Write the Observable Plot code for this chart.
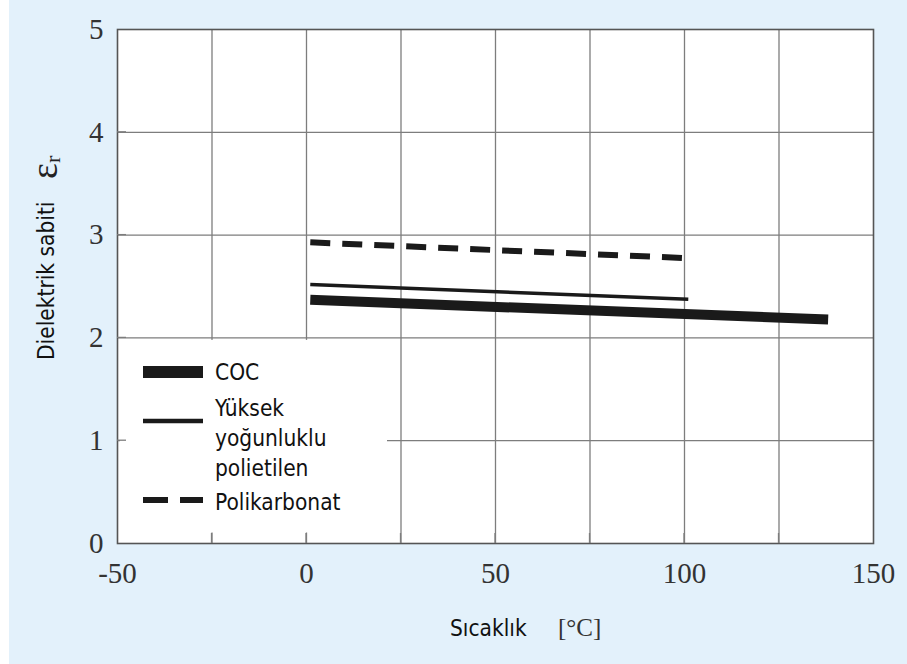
<!DOCTYPE html>
<html>
<head>
<meta charset="utf-8">
<script src="https://cdn.jsdelivr.net/npm/d3@7"></script>
<script src="https://cdn.jsdelivr.net/npm/@observablehq/plot@0.6"></script>
<style>
  html, body { margin: 0; padding: 0; }
  body { width: 907px; height: 664px; background: #ffffff; position: relative; overflow: hidden; }
  #panel { position: absolute; left: 9px; top: 0; width: 898px; height: 664px; background: #e3f1fb; }
</style>
</head>
<body>
<div id="panel"></div>
<script>
// ---- data ----
const xTicks = [-50, 0, 50, 100, 150];
const xGrid = [-25, 0, 25, 50, 75, 100, 125];
const yTicks = [0, 1, 2, 3, 4, 5];
const yGrid = [1, 2, 3, 4];

const cocT = [1, 138];
const cocE = [2.37, 2.18];
const hdpeT = [1, 101];
const hdpeE = [2.52, 2.375];
const pcT = [1, 101];
const pcE = [2.93, 2.775];

const seriesNames = ["COC", "Yüksek yoğunluklu polietilen", "Polikarbonat"];
const legendLines = [["COC"], ["Yüksek", "yoğunluklu", "polietilen"], ["Polikarbonat"]];

const toRows = (t, e) => t.map((v, i) => ({t: v, e: e[i]}));
const cocRows = toRows(cocT, cocE);
const hdpeRows = toRows(hdpeT, hdpeE);
const pcRows = toRows(pcT, pcE);

const serif = "'Liberation Serif', 'Times New Roman', serif";
const sans = "'DejaVu Sans Condensed', 'DejaVu Sans', sans-serif";
const fmt = d => String(d);

const plot = Plot.plot({
  width: 898,
  height: 664,
  marginLeft: 108,
  marginTop: 29,
  marginRight: 34,
  marginBottom: 121,
  style: {background: "transparent", overflow: "visible"},
  x: {domain: [-50, 150]},
  y: {domain: [0, 5]},
  marks: [
    Plot.frame({fill: "white", stroke: "none"}),
    Plot.ruleX(xGrid, {stroke: "#7d7d7d", strokeWidth: 1.3}),
    Plot.ruleY(yGrid, {stroke: "#7d7d7d", strokeWidth: 1.3}),
    Plot.frame({stroke: "#555", strokeWidth: 1.6}),
    Plot.line(cocRows, {x: "t", y: "e", stroke: "#1a1a1a", strokeWidth: 10, strokeLinecap: "butt"}),
    Plot.line(hdpeRows, {x: "t", y: "e", stroke: "#1a1a1a", strokeWidth: 3.5, strokeLinecap: "butt"}),
    Plot.line(pcRows, {x: "t", y: "e", stroke: "#1a1a1a", strokeWidth: 6, strokeLinecap: "butt", strokeDasharray: "20,12"}),
    Plot.axisX(xTicks, {tickSize: 0, tickPadding: 19, label: null, tickFormat: fmt, fontSize: 29, fontFamily: serif, fill: "#333"}),
    Plot.axisY(yTicks, {tickSize: 0, tickPadding: 14, label: null, tickFormat: fmt, fontSize: 29, fontFamily: serif, fill: "#333"})
  ]
});

document.getElementById("panel").appendChild(plot);

const svg = d3.select(plot);
const xs = plot.scale("x");
const ys = plot.scale("y");
const L = 108, B = 664 - 121;

// ---- legend box ----
const g = svg.append("g").attr("text-anchor", "start");
g.append("rect").attr("x", L + 3).attr("y", ys.apply(2) + 2.5).attr("width", 267).attr("height", B - ys.apply(2) - 13).attr("fill", "white");

// inner tick marks (visible where the legend box covers the grid)
xGrid.forEach(v => {
  g.append("line").attr("x1", xs.apply(v)).attr("x2", xs.apply(v)).attr("y1", B).attr("y2", B - 10)
    .attr("stroke", "#7d7d7d").attr("stroke-width", 1.3);
});
yGrid.forEach(v => {
  g.append("line").attr("x1", L).attr("x2", L + 9).attr("y1", ys.apply(v)).attr("y2", ys.apply(v))
    .attr("stroke", "#7d7d7d").attr("stroke-width", 1.3);
});

const sx1 = 134, sx2 = 194, tx = 206;
const styles = [
  {w: 12, dash: null},
  {w: 4.5, dash: null},
  {w: 6, dash: "25,12"}
];
const swatchY = [372, 421, 500];
const textBase = [[380], [416, 446, 476], [510]];
seriesNames.forEach((name, i) => {
  const ln = g.append("line").attr("x1", sx1).attr("x2", sx2).attr("y1", swatchY[i]).attr("y2", swatchY[i])
    .attr("stroke", "#1a1a1a").attr("stroke-width", styles[i].w);
  if (styles[i].dash) ln.attr("stroke-dasharray", styles[i].dash);
  legendLines[i].forEach((s, j) => {
    g.append("text").attr("x", tx).attr("y", textBase[i][j]).text(s)
      .attr("text-anchor", "start")
      .attr("font-family", sans).attr("font-size", 22.5).attr("fill", "#111");
  });
});

// ---- axis titles ----
svg.append("text").attr("x", 441).attr("y", 636).text("Sıcaklık").attr("text-anchor", "start")
  .attr("font-family", sans).attr("font-size", 22.5).attr("fill", "#111");
svg.append("text").attr("x", 549).attr("y", 636).text("[°C]").attr("text-anchor", "start")
  .attr("font-family", serif).attr("font-size", 25).attr("fill", "#333");

svg.append("text").attr("transform", "translate(45,360) rotate(-90)").attr("x", 0).attr("y", 0)
  .attr("text-anchor", "start")
  .text("Dielektrik sabiti")
  .attr("font-family", sans).attr("font-size", 22.5).attr("fill", "#111");
const eps = svg.append("text").attr("transform", "translate(48,179) rotate(-90)")
  .attr("text-anchor", "start")
  .attr("font-family", serif).attr("font-size", 38).attr("fill", "#222");
eps.append("tspan").text("ε");
eps.append("tspan").attr("font-size", 22).attr("dy", 3).text("r");
</script>
</body>
</html>
